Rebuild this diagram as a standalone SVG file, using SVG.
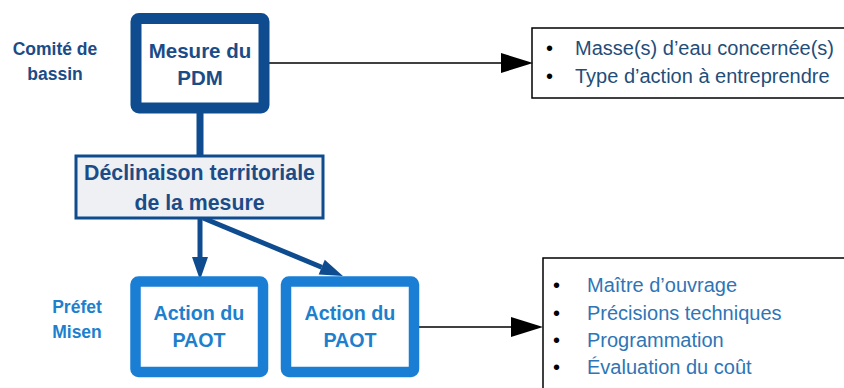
<svg xmlns="http://www.w3.org/2000/svg" width="844" height="388" viewBox="0 0 844 388">
<defs>
<style>
text{font-family:"Liberation Sans",Arial,sans-serif}
.b{font-weight:bold}
.dk{fill:#1B4C87}
.lt{fill:#1E7FCC}
.c{text-anchor:middle}
.bd{fill:#000;font-size:20px}
.l1{fill:#1F4E79;font-size:20px}
.l2{fill:#2E75B6;font-size:20px}
.blue{stroke:#0F4C8F;fill:none}
.blk{stroke:#000;stroke-width:1.5;fill:none}
</style>
<marker id="ab" markerUnits="userSpaceOnUse" markerWidth="24" markerHeight="16" refX="0" refY="8" orient="auto" overflow="visible">
<path d="M0,0 L23,8 L0,16 z" fill="#0F4C8F"/>
</marker>
<marker id="ak" markerUnits="userSpaceOnUse" markerWidth="33" markerHeight="20" refX="0" refY="10" orient="auto" overflow="visible">
<path d="M0,0 L32,10 L0,20 z" fill="#000"/>
</marker>
</defs>
<rect width="844" height="388" fill="#fff"/>

<g id="connectors">
<line x1="200" y1="112" x2="200" y2="156" class="blue" stroke-width="7"/>
<line x1="200" y1="218" x2="200" y2="257" class="blue" stroke-width="5" marker-end="url(#ab)"/>
<line x1="203" y1="218" x2="321.7" y2="267.2" class="blue" stroke-width="5" marker-end="url(#ab)"/>
<line x1="269" y1="63" x2="501" y2="63" class="blk" marker-end="url(#ak)"/>
<line x1="419" y1="327" x2="511" y2="327" class="blk" marker-end="url(#ak)"/>
</g>

<g id="label-comite">
<text class="b dk c" x="55" y="55" font-size="17.5">Comité de</text>
<text class="b dk c" x="55" y="80" font-size="17.5">bassin</text>
</g>
<g id="label-prefet">
<text class="b lt c" x="77" y="313" font-size="17.5">Préfet</text>
<text class="b lt c" x="77" y="338" font-size="17.5">Misen</text>
</g>

<g id="mesure">
<rect x="136" y="18.5" width="128" height="89.5" rx="3" fill="#fff" stroke="#0F4C8F" stroke-width="11"/>
<text class="b dk c" x="200" y="58" font-size="20.5">Mesure du</text>
<text class="b dk c" x="200" y="85" font-size="20.5">PDM</text>
</g>

<g id="declinaison">
<rect x="76" y="156" width="247" height="62" fill="#EEF0F3" stroke="#0F4C8F" stroke-width="3"/>
<text class="b dk c" x="199.5" y="180" font-size="21.3">Déclinaison territoriale</text>
<text class="b dk c" x="199.5" y="210" font-size="21.3">de la mesure</text>
</g>

<g id="action1">
<rect x="135.5" y="281.5" width="127.5" height="90.5" rx="3" fill="#fff" stroke="#1A7FD4" stroke-width="10.5"/>
<text class="b lt c" x="199" y="320" font-size="19.7">Action du</text>
<text class="b lt c" x="199" y="347" font-size="19.7">PAOT</text>
</g>

<g id="action2">
<rect x="286" y="281.5" width="128" height="90.5" rx="3" fill="#fff" stroke="#1A7FD4" stroke-width="10.5"/>
<text class="b lt c" x="350" y="320" font-size="19.7">Action du</text>
<text class="b lt c" x="350" y="347" font-size="19.7">PAOT</text>
</g>

<g id="info-mesure">
<rect x="532" y="28" width="330" height="70" fill="#fff" class="blk"/>
<text class="bd" x="546" y="55">•</text>
<text class="l1" x="575" y="55">Masse(s) d’eau concernée(s)</text>
<text class="bd" x="546" y="83">•</text>
<text class="l1" x="575" y="83">Type d’action à entreprendre</text>
</g>

<g id="info-action">
<rect x="543" y="258" width="320" height="150" fill="#fff" class="blk"/>
<text class="bd" x="553" y="292">•</text>
<text class="l2" x="587" y="292">Maître d’ouvrage</text>
<text class="bd" x="553" y="320">•</text>
<text class="l2" x="587" y="320">Précisions techniques</text>
<text class="bd" x="553" y="347">•</text>
<text class="l2" x="587" y="347">Programmation</text>
<text class="bd" x="553" y="374">•</text>
<text class="l2" x="587" y="374">Évaluation du coût</text>
</g>
</svg>
